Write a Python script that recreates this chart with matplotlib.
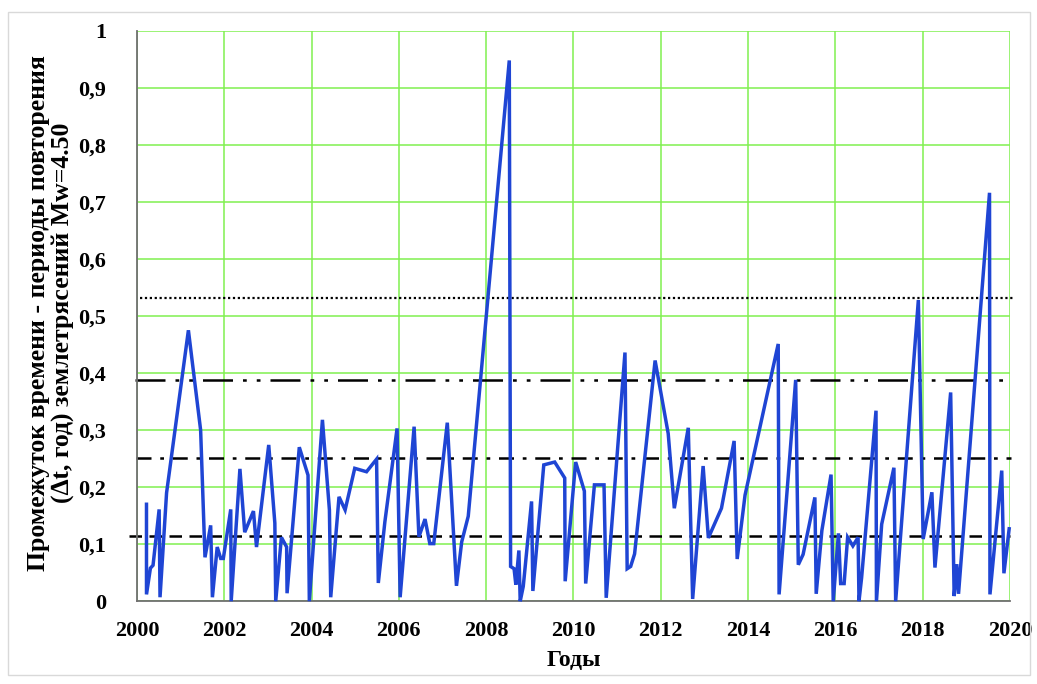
import matplotlib
matplotlib.use("Agg")
import matplotlib.pyplot as plt
from matplotlib.patches import Rectangle

# time of event (decimal year) and recurrence interval (years)
years = [
    2000.22, 2000.22, 2000.31, 2000.37, 2000.51, 2000.53, 2000.68, 2001.18, 2001.46, 2001.56,
    2001.69, 2001.73, 2001.84, 2001.92, 2001.98, 2002.15, 2002.16, 2002.36, 2002.47, 2002.67,
    2002.74, 2003.02, 2003.16, 2003.18, 2003.31, 2003.43, 2003.44, 2003.72, 2003.92, 2003.95,
    2004.25, 2004.41, 2004.44, 2004.63, 2004.77, 2004.99, 2005.26, 2005.49, 2005.53, 2005.68,
    2005.96, 2006.03, 2006.35, 2006.46, 2006.60, 2006.71, 2006.80, 2007.11, 2007.32, 2007.44,
    2007.59, 2008.53, 2008.56, 2008.64, 2008.68, 2008.75, 2008.78, 2008.85, 2009.04, 2009.07,
    2009.32, 2009.57, 2009.80, 2009.81, 2010.05, 2010.25, 2010.28, 2010.48, 2010.70, 2010.75,
    2011.18, 2011.23, 2011.31, 2011.40, 2011.87, 2012.17, 2012.31, 2012.63, 2012.73, 2012.97,
    2013.09, 2013.39, 2013.68, 2013.75, 2013.93, 2014.69, 2014.71, 2015.09, 2015.15, 2015.26,
    2015.53, 2015.56, 2015.69, 2015.90, 2015.95, 2016.07, 2016.12, 2016.20, 2016.28, 2016.40,
    2016.52, 2016.54, 2016.60, 2016.93, 2016.94, 2017.06, 2017.34, 2017.38, 2017.90, 2018.01,
    2018.21, 2018.28, 2018.64, 2018.72, 2018.78, 2018.82, 2019.53, 2019.54, 2019.81, 2019.86,
    2019.98,
]
intervals = [
    0.170, 0.012, 0.058, 0.063, 0.161, 0.007, 0.190, 0.475, 0.300, 0.077,
    0.133, 0.007, 0.095, 0.075, 0.075, 0.161, 0.000, 0.232, 0.121, 0.158,
    0.095, 0.274, 0.137, 0.000, 0.112, 0.095, 0.014, 0.270, 0.221, 0.000,
    0.318, 0.160, 0.007, 0.183, 0.160, 0.233, 0.227, 0.249, 0.032, 0.139,
    0.303, 0.007, 0.306, 0.113, 0.144, 0.101, 0.101, 0.313, 0.027, 0.104,
    0.149, 0.948, 0.061, 0.057, 0.029, 0.089, 0.000, 0.026, 0.175, 0.018,
    0.239, 0.244, 0.216, 0.035, 0.244, 0.193, 0.031, 0.204, 0.204, 0.006,
    0.436, 0.057, 0.061, 0.083, 0.422, 0.294, 0.163, 0.304, 0.004, 0.237,
    0.111, 0.163, 0.281, 0.074, 0.186, 0.451, 0.012, 0.388, 0.064, 0.082,
    0.182, 0.013, 0.124, 0.222, 0.000, 0.119, 0.031, 0.031, 0.112, 0.097,
    0.112, 0.000, 0.041, 0.334, 0.000, 0.135, 0.234, 0.000, 0.528, 0.109,
    0.191, 0.059, 0.366, 0.009, 0.065, 0.013, 0.716, 0.012, 0.229, 0.049,
    0.127,
]

# reference levels
level_dotted = 0.532
level_dashdotdot = 0.388
level_dashdot = 0.251
level_dashed = 0.114

x_ticks = list(range(2000, 2021, 2))
y_ticks = [0, 0.1, 0.2, 0.3, 0.4, 0.5, 0.6, 0.7, 0.8, 0.9, 1.0]
y_tick_labels = ["0", "0,1", "0,2", "0,3", "0,4", "0,5", "0,6", "0,7", "0,8", "0,9", "1"]

plt.rcParams["font.family"] = ["Liberation Serif", "DejaVu Serif"]
plt.rcParams["font.weight"] = "bold"

fig = plt.figure(figsize=(10.37, 6.84), dpi=100)
ax = fig.add_axes([0.132, 0.121, 0.842, 0.834])

# light border around the chart area
fig.patches.append(Rectangle((0.008, 0.013), 0.985, 0.97, transform=fig.transFigure,
                             fill=False, edgecolor="#d9d9d9", linewidth=1))

ax.set_xlim(2000, 2020)
ax.set_ylim(0, 1)
ax.set_xticks(x_ticks)
ax.set_yticks(y_ticks)
ax.set_yticklabels(y_tick_labels)
ax.grid(True, color="#80f050", linewidth=1.1)
ax.set_axisbelow(True)

for side in ["top", "right"]:
    ax.spines[side].set_visible(False)
for side in ["left", "bottom"]:
    ax.spines[side].set_color("#707070")
    ax.spines[side].set_linewidth(1.3)

ax.tick_params(axis="both", length=0, labelsize=16)
ax.tick_params(axis="y", pad=22)
ax.tick_params(axis="x", pad=14)
for lbl in ax.get_xticklabels() + ax.get_yticklabels():
    lbl.set_fontweight("bold")

# threshold lines
ax.plot([2000.08, 2020.1], [level_dotted] * 2, color="black", lw=1.6,
        linestyle=(0, (1, 1.2)), clip_on=False)
ax.plot([1999.95, 2020.03], [level_dashdotdot] * 2, color="black", lw=1.8,
        linestyle=(0, (12, 4, 1.5, 4, 1.5, 4)), clip_on=False)
ax.plot([1999.97, 2020.03], [level_dashdot] * 2, color="black", lw=1.8,
        linestyle=(0, (6, 3.5, 1.5, 3.5)), clip_on=False)
ax.plot([1999.83, 2020.0], [level_dashed] * 2, color="black", lw=1.8,
        linestyle=(0, (5, 3)), clip_on=False)

ax.plot(years, intervals, color="#1f45d4", lw=2.5, solid_joinstyle="miter",
        clip_on=False, zorder=3)

ax.set_xlabel("Годы", fontsize=17, fontweight="bold", labelpad=7)
fig.text(51 / 1037, 1 - 313 / 684,
         "Промежуток времени - периоды повторения\n(\u2206t, год) землетрясений Mw=4.50",
         rotation=90, ha="center", va="center", fontsize=18.5, fontweight="bold",
         linespacing=1.1)

fig.savefig("out.png", dpi=100)
